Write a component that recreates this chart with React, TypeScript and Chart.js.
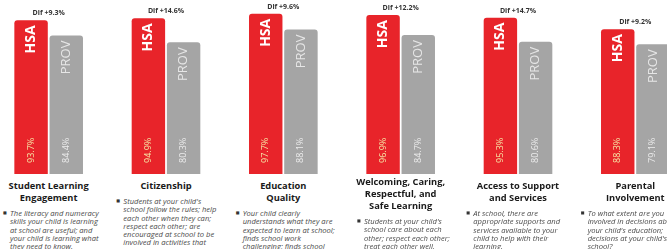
import React, { useEffect, useRef } from "react";
import { Chart, registerables } from "chart.js";

Chart.register(...registerables);

const categories: string[][] = [
  ["Student Learning", "Engagement"],
  ["Citizenship"],
  ["Education", "Quality"],
  ["Welcoming, Caring,", "Respectful, and", "Safe Learning"],
  ["Access to Support", "and Services"],
  ["Parental", "Involvement"],
];
const seriesNames = ["HSA", "PROV"];
const hsaValues = [93.7, 94.9, 97.7, 96.9, 95.3, 88.3];
const provValues = [84.4, 80.3, 88.1, 84.7, 80.6, 79.1];

const bullets: string[][][] = [
  [["The literacy and numeracy", "skills your child is learning", "at school are useful; and", "your child is learning what", "they need to know."]],
  [["Students at your child's", "school follow the rules; help", "each other when they can;", "respect each other; are", "encouraged at school to be", "involved in activities that", "help the community; are", "kind to each other."]],
  [["Your child clearly", "understands what they are", "expected to learn at school;", "finds school work", "challenging; finds school", "work interesting; and"]],
  [["Students at your child's", "school care about each", "other; respect each other;", "treat each other well."]],
  [["At school, there are", "appropriate supports and", "services available to your", "child to help with their", "learning."], ["When your child needs help,", "it is available."]],
  [["To what extent are you", "involved in decisions about", "your child's education;", "decisions at your child's", "school?"], ["How satisfied are you with", "your involvement."]],
];

const COLORS = { hsa: "#e8242a", prov: "#a5a5a5" };
const FONT = "'Open Sans', 'DejaVu Sans', sans-serif";
const CHART_LEFT = -10;
const CHART_W = 704;
const COL_W = CHART_W / 6;
const textIndent = [20, 16, 18, 22, 14, 11];

const labelPlugin = {
  id: "barLabels",
  afterDatasetsDraw(chart: any) {
    const ctx = chart.ctx;
    const m0 = chart.getDatasetMeta(0);
    const m1 = chart.getDatasetMeta(1);
    ctx.save();
    for (let i = 0; i < hsaValues.length; i++) {
      const b0 = m0.data[i];
      const b1 = m1.data[i];
      const dif = hsaValues[i] - provValues[i];
      ctx.fillStyle = "#333";
      ctx.font = `bold 7px ${FONT}`;
      ctx.textAlign = "center";
      ctx.textBaseline = "middle";
      ctx.fillText(`Dif +${dif.toFixed(1)}%`, (b0.x + b1.x) / 2, b0.y - 7);
      const bars = [b0, b1];
      const vals = [hsaValues[i], provValues[i]];
      for (let k = 0; k < 2; k++) {
        const b = bars[k];
        ctx.save();
        ctx.translate(b.x, b.y + 5);
        ctx.rotate(-Math.PI / 2);
        ctx.textAlign = "right";
        ctx.textBaseline = "middle";
        ctx.fillStyle = k === 0 ? "#ffffff" : "#e6e6e6";
        ctx.font = k === 0 ? `bold 14px ${FONT}` : `13px ${FONT}`;
        ctx.fillText(seriesNames[k], 0, 0);
        ctx.restore();
        ctx.save();
        ctx.translate(b.x, b.base - 11);
        ctx.rotate(-Math.PI / 2);
        ctx.textAlign = "left";
        ctx.textBaseline = "middle";
        ctx.fillStyle = k === 0 ? "#f6e7a6" : "#ececec";
        ctx.font = `9px ${FONT}`;
        ctx.fillText(`${vals[k].toFixed(1)}%`, 0, 0);
        ctx.restore();
      }
    }
    ctx.restore();
  },
};

export default function App() {
  const ref = useRef<HTMLCanvasElement | null>(null);
  useEffect(() => {
    if (!ref.current) return;
    const chart = new Chart(ref.current, {
      type: "bar",
      data: {
        labels: categories,
        datasets: [
          {
            label: seriesNames[0],
            data: hsaValues,
            backgroundColor: COLORS.hsa,
            categoryPercentage: 0.6,
            barPercentage: 0.95,
            borderRadius: { topLeft: 3, topRight: 3, bottomLeft: 0, bottomRight: 0 },
            borderSkipped: false,
          },
          {
            label: seriesNames[1],
            data: provValues,
            backgroundColor: COLORS.prov,
            categoryPercentage: 0.6,
            barPercentage: 0.95,
            borderRadius: { topLeft: 3, topRight: 3, bottomLeft: 0, bottomRight: 0 },
            borderSkipped: false,
          },
        ],
      },
      options: {
        animation: false,
        responsive: false,
        maintainAspectRatio: false,
        layout: { padding: { top: 10, bottom: 2, left: 0, right: 0 } },
        plugins: { legend: { display: false }, tooltip: { enabled: false } },
        scales: {
          x: { display: false },
          y: { display: false, min: 0, max: 100 },
        },
      },
      plugins: [labelPlugin],
    });
    return () => chart.destroy();
  }, []);

  return (
    <div style={{ position: "fixed", inset: 0, overflow: "hidden", background: "#fff", fontFamily: FONT }}>
      <canvas
        ref={ref}
        width={CHART_W}
        height={176}
        style={{ position: "absolute", left: CHART_LEFT, top: 0, width: CHART_W, height: 176 }}
      />
      {categories.map((title, i) => (
        <div
          key={i}
          style={{
            position: "absolute",
            left: CHART_LEFT + i * COL_W,
            width: COL_W,
            top: title.length > 2 ? 176 : 180,
          }}
        >
          <div style={{ textAlign: "center", fontWeight: 700, fontSize: 9.3, lineHeight: "12px", color: "#1a1a1a" }}>
            {title.map((t, j) => (
              <div key={j} style={{ whiteSpace: "nowrap" }}>{t}</div>
            ))}
          </div>
          <div style={{ marginTop: 5, paddingLeft: textIndent[i] }}>
            {bullets[i].map((lines, b) => (
              <div key={b} style={{ position: "relative" }}>
                <span style={{ position: "absolute", left: -7, top: 0, fontSize: 4, lineHeight: "8.3px", color: "#333" }}>■</span>
                {lines.map((ln, j) => (
                  <div
                    key={j}
                    style={{ whiteSpace: "nowrap", fontStyle: "italic", fontSize: 7.6, lineHeight: "8.3px", color: "#4a4a4a" }}
                  >
                    {ln}
                  </div>
                ))}
              </div>
            ))}
          </div>
        </div>
      ))}
    </div>
  );
}
